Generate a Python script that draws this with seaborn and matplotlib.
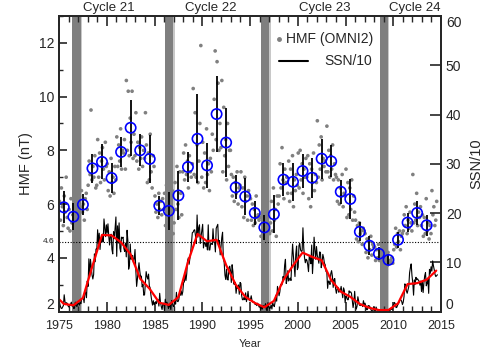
import numpy as np
import pandas as pd
import seaborn as sns
import matplotlib.pyplot as plt
from matplotlib.ticker import MultipleLocator
import matplotlib.transforms as mtransforms

# 27-day HMF averages (nT), grouped by year 1975..2014
hmf_years = list(range(1975, 2015))
hmf_27day = [
    [6.1, 5.4, 6.6, 5.9, 5.2, 6.3, 5.7, 7.0, 5.5, 5.1],
    [5.8, 5.0, 6.2, 5.3, 5.6, 4.9, 6.0, 5.4, 5.2, 5.9],
    [5.6, 6.3, 5.9, 6.5, 5.7, 6.0, 5.4, 6.2, 6.4, 5.8],
    [6.7, 7.6, 7.1, 9.5, 6.9, 7.4, 7.0, 7.8, 6.6, 6.7],
    [8.4, 7.0, 7.9, 6.8, 7.6, 8.1, 7.3, 6.9, 8.3, 7.4],
    [7.5, 6.5, 7.2, 6.3, 7.7, 6.8, 7.0, 6.4, 7.4, 6.9],
    [8.5, 7.4, 8.2, 7.6, 8.8, 7.3, 8.0, 7.9, 8.4, 7.3],
    [10.6, 8.0, 10.2, 7.8, 9.2, 8.3, 10.2, 7.7, 8.6, 7.8],
    [9.4, 7.6, 8.3, 7.3, 8.1, 7.7, 8.5, 7.4, 8.0, 7.7],
    [9.4, 8.2, 6.8, 7.9, 6.9, 8.6, 7.2, 6.6, 7.8, 7.4],
    [6.3, 5.7, 6.0, 5.5, 6.4, 5.8, 6.1, 5.6, 6.2, 5.8],
    [6.4, 5.2, 6.7, 5.4, 5.9, 5.0, 6.2, 5.3, 6.5, 4.9],
    [5.3, 6.8, 5.8, 7.4, 6.0, 5.5, 7.2, 6.4, 5.6, 7.2],
    [7.9, 6.9, 8.2, 7.1, 7.6, 6.6, 7.8, 7.2, 7.0, 7.5],
    [10.3, 7.1, 9.4, 7.0, 8.2, 6.8, 7.6, 9.0, 11.9, 7.0],
    [8.3, 6.6, 7.9, 6.8, 8.8, 7.1, 7.5, 6.5, 7.7, 7.2],
    [8.6, 8.0, 9.9, 11.7, 8.4, 11.3, 10.5, 8.0, 9.0, 8.1],
    [10.6, 7.2, 9.6, 7.8, 8.4, 6.9, 9.0, 7.4, 8.0, 8.0],
    [7.1, 6.3, 7.0, 6.1, 6.8, 6.4, 7.2, 6.0, 6.6, 6.7],
    [7.2, 5.9, 6.6, 5.5, 7.0, 6.1, 6.3, 5.4, 6.5, 6.3],
    [6.2, 5.4, 6.0, 5.2, 5.8, 5.3, 6.3, 5.5, 5.6, 5.4],
    [5.5, 4.8, 5.6, 4.6, 5.3, 4.9, 5.8, 4.7, 5.1, 5.0],
    [4.9, 5.3, 6.1, 5.0, 6.6, 5.4, 5.8, 4.8, 6.3, 6.0],
    [6.3, 7.5, 6.6, 8.1, 6.9, 6.2, 7.3, 6.8, 7.0, 6.4],
    [7.6, 6.1, 7.3, 6.4, 7.8, 5.9, 6.9, 6.5, 7.1, 6.7],
    [7.9, 6.6, 8.0, 6.9, 7.5, 6.4, 7.3, 7.0, 7.7, 7.0],
    [7.8, 6.2, 7.5, 5.9, 7.3, 6.8, 7.9, 6.5, 7.1, 6.8],
    [9.1, 7.0, 8.2, 7.3, 8.5, 6.9, 7.7, 7.4, 7.6, 7.2],
    [8.9, 7.2, 8.0, 7.0, 7.8, 7.3, 8.2, 6.9, 7.5, 7.1],
    [7.0, 6.1, 6.9, 6.0, 6.6, 6.3, 7.1, 5.9, 6.4, 6.3],
    [7.3, 5.5, 6.8, 5.6, 6.6, 5.8, 6.9, 5.4, 6.3, 5.7],
    [5.4, 4.7, 5.2, 4.6, 5.3, 4.9, 5.0, 4.5, 5.1, 5.0],
    [4.9, 4.2, 4.7, 4.0, 4.6, 4.3, 4.8, 4.1, 4.5, 4.4],
    [4.4, 3.9, 4.3, 4.0, 4.5, 3.9, 4.2, 4.1, 4.2, 4.0],
    [4.1, 3.8, 4.0, 3.7, 4.2, 3.9, 3.8, 3.9, 4.0, 3.8],
    [4.3, 4.5, 5.1, 4.4, 4.9, 4.6, 5.0, 4.3, 4.8, 4.9],
    [5.0, 5.6, 5.2, 5.9, 4.9, 5.4, 5.1, 5.7, 5.3, 5.0],
    [7.1, 5.3, 6.0, 5.4, 6.4, 5.2, 5.7, 5.5, 5.9, 5.2],
    [5.6, 4.8, 5.5, 4.9, 6.2, 5.0, 5.3, 4.7, 5.2, 4.9],
    [6.5, 5.6, 5.9, 5.2, 5.4, 6.1],
]

# annual HMF means and standard deviations
annual_years = list(range(1975, 2014))
hmf_annual = [5.88, 5.53, 5.98, 7.33, 7.57, 6.97, 7.94, 8.84, 8.00, 7.68,
              5.94, 5.75, 6.32, 7.38, 8.43, 7.44, 9.35, 8.29, 6.62, 6.28,
              5.67, 5.13, 5.62, 6.91, 6.83, 7.23, 6.98, 7.69, 7.59, 6.46,
              6.19, 4.97, 4.45, 4.15, 3.92, 4.67, 5.31, 5.67, 5.21]
hmf_std = [0.60, 0.50, 0.40, 0.55, 0.65, 0.55, 0.55, 1.05, 0.60, 0.90,
           0.35, 0.70, 0.90, 0.55, 1.65, 0.85, 1.40, 1.30, 0.45, 0.70,
           0.45, 0.45, 0.70, 0.60, 0.70, 0.65, 0.75, 0.75, 0.60, 0.45,
           0.75, 0.35, 0.35, 0.25, 0.20, 0.30, 0.35, 0.45, 0.40]

# monthly sunspot number / 10, 1975..2014
ssn_monthly = [
    [1.9, 1.2, 0.7, 0.6, 0.9, 1.2, 3.4, 2.0, 1.4, 1.8, 1.6, 1.1],
    [0.9, 1.3, 1.5, 1.9, 1.1, 1.3, 0.6, 0.7, 1.9, 1.3, 1.0, 1.6],
    [1.7, 1.3, 1.9, 1.6, 2.6, 2.7, 2.9, 1.8, 4.0, 3.9, 2.8, 6.2],
    [5.1, 10.7, 7.0, 10.6, 8.9, 7.4, 6.6, 7.5, 11.7, 10.1, 12.7, 12.6],
    [16.6, 13.7, 15.9, 12.6, 14.8, 14.2, 15.7, 14.1, 18.8, 17.0, 15.2, 17.6],
    [15.9, 17.8, 15.3, 13.5, 15.5, 15.7, 12.6, 11.7, 16.2, 14.8, 16.9, 19.2],
    [11.2, 17.4, 13.9, 18.0, 12.9, 12.1, 15.1, 14.9, 15.1, 12.8, 12.2, 13.9],
    [11.1, 16.5, 14.4, 8.6, 9.4, 13.7, 10.6, 11.1, 11.4, 10.0, 10.7, 12.6],
    [8.4, 5.1, 6.6, 8.5, 9.9, 8.2, 7.0, 7.2, 5.0, 5.5, 3.3, 3.4],
    [5.7, 8.1, 7.1, 6.6, 7.6, 5.2, 4.8, 3.3, 2.2, 1.3, 2.2, 1.4],
    [1.6, 2.0, 1.6, 2.4, 2.4, 1.1, 3.7, 1.9, 1.0, 0.4, 1.6, 1.7],
    [0.3, 2.5, 1.5, 1.9, 1.5, 0.6, 1.1, 1.3, 0.4, 2.2, 1.7, 1.1],
    [1.0, 2.3, 1.5, 3.9, 2.1, 2.0, 2.4, 3.7, 3.3, 4.2, 3.3, 4.0],
    [5.9, 6.0, 7.7, 6.3, 7.7, 10.3, 10.9, 9.6, 10.8, 12.1, 14.0, 16.0],
    [16.1, 16.5, 16.6, 15.4, 13.8, 19.6, 15.1, 17.0, 17.6, 13.8, 15.3, 16.5],
    [17.7, 12.9, 14.0, 14.0, 13.2, 14.0, 12.5, 17.6, 12.5, 12.5, 13.8, 13.8],
    [13.6, 16.8, 14.1, 14.1, 12.1, 16.9, 17.3, 17.7, 13.7, 14.4, 11.5, 13.0],
    [15.0, 16.1, 10.7, 10.0, 7.4, 6.5, 8.6, 6.5, 6.4, 8.9, 9.2, 8.3],
    [5.9, 9.5, 8.1, 5.6, 5.5, 5.9, 3.7, 5.1, 4.7, 5.4, 3.5, 5.9],
    [5.7, 3.2, 2.4, 2.4, 2.9, 2.4, 3.8, 2.0, 2.8, 4.1, 2.5, 2.2],
    [2.4, 3.2, 2.2, 1.9, 1.9, 1.9, 1.4, 1.6, 1.2, 1.7, 1.3, 0.9],
    [1.1, 0.4, 1.0, 0.5, 1.2, 1.0, 1.0, 1.6, 0.4, 0.2, 1.8, 0.9],
    [0.6, 0.7, 1.3, 0.5, 1.8, 1.3, 1.0, 1.9, 3.3, 2.1, 5.1, 4.1],
    [3.2, 4.0, 5.5, 5.3, 5.6, 7.1, 6.6, 9.4, 10.6, 5.7, 6.4, 8.3],
    [6.2, 6.6, 6.8, 6.3, 10.6, 13.7, 11.3, 9.3, 7.1, 11.6, 13.3, 8.5],
    [9.0, 13.4, 13.8, 12.5, 12.2, 12.4, 17.0, 13.0, 10.9, 9.9, 10.6, 10.4],
    [9.5, 8.1, 11.4, 10.8, 9.7, 13.5, 7.7, 10.6, 15.1, 12.6, 10.6, 13.2],
    [11.4, 10.8, 9.8, 12.1, 12.0, 8.9, 9.9, 11.6, 10.9, 9.8, 9.5, 8.1],
    [8.0, 4.7, 6.2, 6.0, 5.5, 7.7, 8.3, 7.2, 4.9, 6.5, 6.7, 4.7],
    [3.7, 4.6, 4.9, 3.9, 4.1, 4.3, 5.1, 4.0, 2.8, 4.8, 4.3, 1.8],
    [3.1, 2.9, 2.4, 2.4, 4.2, 3.9, 4.0, 3.7, 2.2, 0.8, 1.8, 4.1],
    [1.5, 0.5, 1.1, 3.0, 2.2, 1.3, 1.2, 1.3, 1.5, 1.0, 2.2, 1.4],
    [1.7, 1.1, 0.4, 0.4, 1.2, 1.2, 1.0, 0.6, 0.2, 0.1, 0.2, 1.0],
    [0.3, 0.2, 0.9, 0.3, 0.3, 0.3, 0.05, 0.0, 0.1, 0.3, 0.4, 0.1],
    [0.15, 0.14, 0.07, 0.12, 0.29, 0.26, 0.32, 0.0, 0.43, 0.46, 0.41, 1.08],
    [1.36, 1.85, 1.55, 0.80, 0.87, 1.31, 1.64, 1.93, 2.50, 2.35, 2.11, 1.42],
    [1.90, 2.98, 5.62, 5.44, 4.16, 3.71, 4.37, 5.06, 7.86, 8.88, 9.67, 7.32],
    [5.83, 3.32, 6.42, 5.52, 6.95, 6.45, 6.65, 6.36, 6.16, 5.35, 6.18, 4.06],
    [6.25, 3.85, 5.79, 7.25, 7.89, 5.22, 5.75, 6.60, 3.69, 8.56, 7.76, 9.09],
    [8.20, 10.28, 9.27, 8.48, 7.52, 7.10, 7.28, 7.46],
]

# annual sunspot number / 10, 1974..2014
ssn_years = list(range(1974, 2015))
ssn_annual = [3.45, 1.55, 1.26, 2.75, 9.25, 15.54, 15.46, 14.04, 11.59, 6.66,
              4.59, 1.79, 1.34, 2.94, 10.02, 15.76, 14.26, 14.57, 9.43, 5.46,
              2.99, 1.75, 0.86, 2.15, 6.43, 9.33, 11.96, 11.10, 10.40, 6.37,
              4.04, 2.98, 1.52, 0.75, 0.29, 0.31, 1.65, 5.57, 5.76, 6.47, 8.30]

# solar minimum bands (years)
min_bands = [(1976.4, 1977.25), (1986.05, 1986.95), (1996.1, 1997.0), (2008.6, 2009.45)]
cycle_names = ["Cycle 21", "Cycle 22", "Cycle 23", "Cycle 24"]
cycle_pos = [1980.2, 1990.85, 2002.85, 2012.3]

# assemble frames
dots = pd.DataFrame({
    "t": [y + (i + 0.5) / 10 for y, vals in zip(hmf_years, hmf_27day) for i in range(len(vals))],
    "hmf": [v for vals in hmf_27day for v in vals],
})
annual = pd.DataFrame({"t": [y + 0.5 for y in annual_years], "hmf": hmf_annual, "sd": hmf_std})
monthly = pd.DataFrame({
    "t": [y + (m + 0.5) / 12 for y, vals in zip(range(1975, 2015), ssn_monthly) for m in range(len(vals))],
    "ssn": [v for vals in ssn_monthly for v in vals],
})
yearly = pd.DataFrame({"t": [y + 0.5 for y in ssn_years], "ssn": ssn_annual})

sns.set_style("ticks")
plt.rcParams["font.family"] = ["Liberation Sans", "DejaVu Sans"]

fig = plt.figure(figsize=(4.91, 3.54), dpi=100)
ax = fig.add_axes([0.1202, 0.12, 0.778, 0.8348])
ax2 = ax.twinx()

for a, b in min_bands:
    ax.axvspan(a, b, color="#7f7f7f", lw=0, zorder=0)
    ax.axvspan(b, b + 0.15, color="#c8c8c8", lw=0, zorder=0)

ax.axhline(4.6, color="black", ls=(0, (1, 1.5)), lw=0.8, zorder=1)

sns.scatterplot(data=dots, x="t", y="hmf", ax=ax, color="#808080", s=7,
                edgecolor="none", zorder=2, legend=False)
ax.errorbar(annual["t"], annual["hmf"], yerr=annual["sd"], fmt="none",
            ecolor="black", elinewidth=1.3, capsize=0, zorder=3)
sns.scatterplot(data=annual, x="t", y="hmf", ax=ax, s=55, facecolor="none",
                edgecolor="#0000ff", linewidth=1.2, zorder=4, legend=False)

sns.lineplot(data=monthly, x="t", y="ssn", ax=ax2, color="black", lw=0.8)
sns.lineplot(data=yearly, x="t", y="ssn", ax=ax2, color="red", lw=1.6)

ax.set_xlim(1975, 2015)
ax.set_ylim(2, 13)
ax2.set_ylim(0, 60)
ax.set_xticks(range(1975, 2016, 5))
ax.xaxis.set_minor_locator(MultipleLocator(1))
ax.set_yticks([2, 4, 6, 8, 10, 12])
ax.yaxis.set_minor_locator(MultipleLocator(1))
ax2.set_yticks(range(0, 61, 10))

ax.tick_params(axis="x", which="both", direction="in", top=True, labelsize=9, pad=6)
ax.tick_params(axis="x", which="major", length=7, width=1.2)
ax.tick_params(axis="x", which="minor", length=4, width=1.0)
ax.tick_params(axis="y", which="major", direction="in", length=6, width=1.2, labelsize=10)
ax.tick_params(axis="y", which="minor", direction="in", length=3, width=1.0)
ax2.tick_params(axis="y", direction="in", length=8, width=1.2, labelsize=10)

# keep end labels inside the frame height, as in the original
ax.get_yticklabels()[0].set_va("bottom")
ax2.get_yticklabels()[0].set_va("bottom")
ax2.get_yticklabels()[-1].set_va("top")

for sp in list(ax.spines.values()) + list(ax2.spines.values()):
    sp.set_linewidth(1.3)

ax.set_xlabel("Year", fontsize=8, labelpad=5)
ax.set_ylabel("HMF (nT)", fontsize=10.5, labelpad=4)
ax2.set_ylabel("SSN/10", fontsize=10.5, labelpad=6)

trans = mtransforms.blended_transform_factory(ax.transAxes, ax.transData)
ax.text(-0.012, 4.6, "4.6", transform=trans, ha="right", va="center", fontsize=6)

ttrans = mtransforms.blended_transform_factory(ax.transData, ax.transAxes)
for name, xp in zip(cycle_names, cycle_pos):
    ax.text(xp, 1.006, name, transform=ttrans, ha="center", va="bottom", fontsize=9.5)

# legend
ax2.plot([0.576], [0.922], "o", color="#808080", ms=2.5, transform=ax2.transAxes, clip_on=False)
ax2.text(0.823, 0.922, "HMF (OMNI2)", transform=ax2.transAxes, ha="right", va="center", fontsize=10)
ax2.plot([0.576, 0.652], [0.848, 0.848], color="black", lw=1.5, transform=ax2.transAxes)
ax2.text(0.819, 0.848, "SSN/10", transform=ax2.transAxes, ha="right", va="center", fontsize=10)

fig.savefig("out.png", dpi=100)
